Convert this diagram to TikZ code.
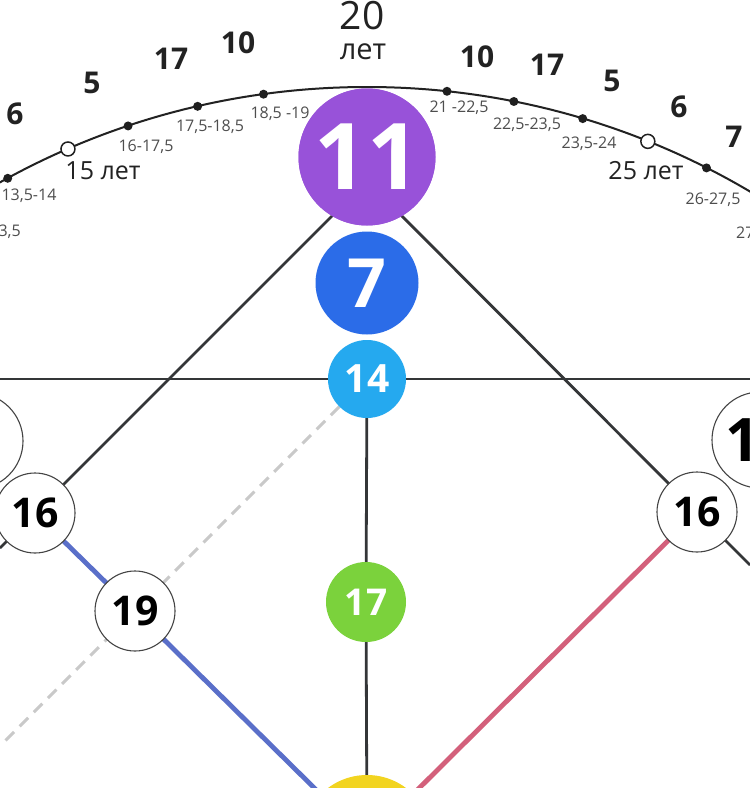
\documentclass[tikz,border=0pt]{standalone}
\usepackage{fontspec}
\setmainfont{Open Sans}
\usetikzlibrary{calc}
\pgfdeclarelayer{bg}
\pgfsetlayers{bg,main}
\definecolor{cpurple}{HTML}{9852D9}
\definecolor{cblue}{HTML}{2B6CE8}
\definecolor{clblue}{HTML}{25A9EF}
\definecolor{cgreen}{HTML}{7BD23C}
\definecolor{cyellow}{HTML}{F2D420}
\definecolor{cbline}{HTML}{5A6FC9}
\definecolor{crline}{HTML}{D3607B}
\definecolor{cline}{HTML}{343638}
\definecolor{cborder}{HTML}{444444}
\definecolor{ctext}{HTML}{222222}
\definecolor{cgray}{HTML}{4E4E4E}
\definecolor{cdash}{HTML}{C9C9C9}
\newcommand{\fs}[1]{\fontsize{#1}{#1}\selectfont}
\begin{document}
\begin{tikzpicture}[x=1pt,y=-1pt,
  blk/.style={draw=cline, line width=2.8pt},
  wnode/.style={circle, draw=cborder, line width=1.1pt, fill=white, inner sep=0pt, minimum size=80pt, font=\bfseries\fs{41}, text=black},
  cnode/.style={circle, inner sep=0pt, text=white, font=\bfseries\fs{#1}},
  dotn/.style={circle, fill=black!88, inner sep=0pt, minimum size=9pt},
  odot/.style={circle, draw=black!88, fill=white, line width=1.5pt, inner sep=0pt, minimum size=14pt},
  arcn/.style={font=\bfseries\fs{30}, text=ctext, inner sep=0pt},
  agen/.style={font=\fs{16}, text=cgray, inner sep=0pt},
  bigage/.style={font=\fs{25}, text=ctext, inner sep=0pt},
]
\useasboundingbox (0,0) rectangle (750,788);
\clip (0,0) rectangle (750,788);

% centre of the age circle
\coordinate (C) at (367,840);

% main nodes
\node[cnode=92, fill=cpurple, minimum size=137pt] (n11) at (367,157) {11};
\node[cnode=68, fill=cblue, minimum size=103pt] (n7) at (367,283) {7};
\node[cnode=39, fill=clblue, minimum size=78pt] (n14) at (367,379) {14};
\node[cnode=37, fill=cgreen, minimum size=80pt] (n17) at (366,602) {17};
\node[circle, fill=cyellow, inner sep=0pt, minimum size=130pt] (nY) at (367,840) {};
\node[wnode, minimum size=96pt] (Lbig) at (-25,441) {};
\node[wnode, minimum size=96pt, font=\bfseries\fs{60}] (Rbig) at (760,440) {1\phantom{0}};
\node[wnode] (L16) at (35,513) {16};
\node[wnode] (R16) at (697,512) {16};
\node[wnode] (n19) at (135,611) {19};

% free ends
\coordinate (apex) at (367,181);
\coordinate (Lend) at (0,548);
\coordinate (Rend) at (750,565);
\coordinate (H1) at (0,379);
\coordinate (H2) at (750,379);
\coordinate (Dend) at (0,746);

% dots on the arc
\node[dotn] (a1) at ($(C)+(-90-28.5:753)$) {};
\node[odot] (a15) at ($(C)+(-90-23.4:753)$) {};
\node[dotn] (a2) at ($(C)+(-90-18.5:753)$) {};
\node[dotn] (a3) at ($(C)+(-90-13.0:753)$) {};
\node[dotn] (a4) at ($(C)+(-90-7.9:753)$) {};
\node[dotn] (b1) at ($(C)+(-90+6.1:753)$) {};
\node[dotn] (b2) at ($(C)+(-90+11.25:753)$) {};
\node[dotn] (b3) at ($(C)+(-90+16.65:753)$) {};
\node[odot] (b25) at ($(C)+(-90+21.9:753)$) {};
\node[dotn] (b4) at ($(C)+(-90+26.8:753)$) {};

\begin{pgfonlayer}{bg}
  \fill[white] (0,0) rectangle (750,788);
  \draw[draw=ctext, line width=2pt] (C) circle[radius=753];
  \draw[blk] (H1) -- (H2);
  \draw[blk] (apex) -- (L16.center) -- (Lend);
  \draw[blk] (apex) -- (R16.center) -- (Rend);
  \draw[blk] (n14.center) -- (n17.center) -- (nY.center);
  \draw[draw=cdash, line width=3pt, dash pattern=on 12pt off 8pt] (n14) -- (n19.center) -- (Dend);
  \draw[draw=cbline, line width=4.8pt] (L16.center) -- (n19.center) -- (nY.center);
  \draw[draw=crline, line width=4.8pt] (R16.center) -- (nY.center);
\end{pgfonlayer}

% age labels
\node[agen] (t1) at (29,196) {13,5-14};
\node[agen, anchor=east] (t0) at (21,232) {3,5};
\node[agen] (t2) at (146,147) {16-17,5};
\node[agen] (t3) at (210,127) {17,5-18,5};
\node[agen] (t4) at (280,114) {18,5 -19};
\node[agen] (u1) at (459,108) {21 -22,5};
\node[agen] (u2) at (527,125) {22,5-23,5};
\node[agen] (u3) at (589,144) {23,5-24};
\node[agen] (u4) at (713,200) {26-27,5};
\node[agen, anchor=west] (u5) at (736,233) {27};
\node[bigage] (l15) at (103,171) {15 лет};
\node[bigage] (l25) at (646,171) {25 лет};
\node[font=\fs{39}, text=ctext, inner sep=0pt] (l20) at (362,16) {20};
\node[font=\fs{29}, text=ctext, inner sep=0pt] (l20b) at (363,52) {лет};

% arcana numbers above the arc
\node[arcn] (k1) at (15,114) {6};
\node[arcn] (k2) at (92,83) {5};
\node[arcn] (k3) at (171,59) {17};
\node[arcn] (k4) at (238,43) {10};
\node[arcn] (k5) at (477,57) {10};
\node[arcn] (k6) at (547,65) {17};
\node[arcn] (k7) at (612,81) {5};
\node[arcn] (k8) at (679,107) {6};
\node[arcn] (k9) at (734,137) {7};

% redraw purple on top of its label
\node[cnode=92, fill=cpurple, minimum size=137pt] at (n11.center) {11};
\end{tikzpicture}
\end{document}
